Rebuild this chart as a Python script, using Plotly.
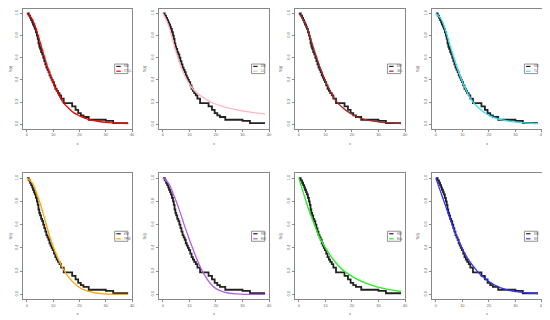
import plotly.graph_objects as go
from plotly.subplots import make_subplots

# Kaplan-Meier (empirical) step curve
km_time = [0, 0.7, 1.2, 1.6, 2.0, 2.3, 2.7, 3.0, 3.4, 3.8, 4.1, 4.4, 4.7, 5.0, 5.4, 5.8,
           6.2, 6.6, 7.0, 7.4, 7.8, 8.2, 8.6, 9.0, 9.4, 9.8, 10.3, 10.8, 11.3, 11.8, 12.4,
           13.0, 14.0, 17.2, 18.5, 19.5, 20.5, 21.5, 23.5, 30.0, 32.8, 38.5]
km_surv = [1.0, 0.98, 0.96, 0.94, 0.92, 0.90, 0.88, 0.86, 0.83, 0.80, 0.77, 0.73, 0.70, 0.68,
           0.65, 0.63, 0.60, 0.57, 0.54, 0.51, 0.49, 0.47, 0.44, 0.42, 0.40, 0.38, 0.35, 0.32,
           0.30, 0.28, 0.26, 0.23, 0.19, 0.16, 0.13, 0.10, 0.08, 0.065, 0.04, 0.03, 0.01, 0.01]

# fitted survival curves
fit_time = [0, 2, 4, 6, 8, 10, 12, 14, 16, 18, 20, 22, 25, 28, 31, 34, 38.5]
fit_red = [1.0, 0.95, 0.82, 0.66, 0.50, 0.37, 0.27, 0.19, 0.14, 0.10, 0.075, 0.055, 0.035, 0.022, 0.014, 0.009, 0.005]
fit_pink = [1.0, 0.90, 0.73, 0.57, 0.45, 0.36, 0.30, 0.26, 0.23, 0.20, 0.18, 0.165, 0.145, 0.13, 0.115, 0.105, 0.09]
fit_brown = [1.0, 0.93, 0.80, 0.65, 0.51, 0.39, 0.29, 0.21, 0.16, 0.12, 0.09, 0.065, 0.042, 0.027, 0.017, 0.011, 0.006]
fit_cyan = [1.0, 0.95, 0.82, 0.66, 0.51, 0.38, 0.28, 0.20, 0.15, 0.11, 0.08, 0.06, 0.038, 0.025, 0.016, 0.010, 0.005]
fit_orange = [1.0, 0.96, 0.85, 0.71, 0.55, 0.41, 0.30, 0.21, 0.145, 0.095, 0.06, 0.037, 0.017, 0.007, 0.003, 0.001, 0.0]
fit_purple = [1.0, 0.96, 0.86, 0.74, 0.60, 0.47, 0.35, 0.24, 0.155, 0.09, 0.05, 0.028, 0.01, 0.004, 0.001, 0.0, 0.0]
fit_green = [1.0, 0.85, 0.71, 0.59, 0.48, 0.40, 0.33, 0.27, 0.22, 0.185, 0.155, 0.13, 0.10, 0.075, 0.056, 0.042, 0.025]
fit_blue = [1.0, 0.87, 0.74, 0.61, 0.49, 0.39, 0.31, 0.245, 0.19, 0.145, 0.11, 0.083, 0.052, 0.033, 0.021, 0.013, 0.006]

fits = [fit_red, fit_pink, fit_brown, fit_cyan, fit_orange, fit_purple, fit_green, fit_blue]
fit_names = ["OTLL", "LL", "GLL", "TL", "TPW", "EW", "Exp", "W"]
fit_colors = ["#ff0000", "#ffb6c1", "#a52a2a", "#33e0f0", "#ffa500", "#b45cf0", "#22ee22", "#3333ff"]
km_name = "KM"

x_ticks = [0, 10, 20, 30, 40]
y_ticks = [0.0, 0.2, 0.4, 0.6, 0.8, 1.0]

OFF = 8  # browser body margin
W, H = 550 - OFF, 320 - OFF
col_px = [(18, 129), (156, 268), (294, 406), (433, 545)]
row_px = [(4, 128), (173, 299)]

fig = make_subplots(rows=2, cols=4)

for i in range(8):
    r, c = i // 4, i % 4
    fig.add_trace(go.Scatter(x=km_time, y=km_surv, mode="lines", line_shape="hv",
                             line=dict(color="#222222", width=1.8), showlegend=False),
                  row=r + 1, col=c + 1)
    fig.add_trace(go.Scatter(x=fit_time, y=fits[i], mode="lines", line_shape="spline",
                             line=dict(color=fit_colors[i], width=1.3), showlegend=False),
                  row=r + 1, col=c + 1)
    n = i + 1
    xa = "xaxis" if n == 1 else f"xaxis{n}"
    ya = "yaxis" if n == 1 else f"yaxis{n}"
    x0, x1 = col_px[c][0] - OFF, col_px[c][1] - OFF
    y0, y1 = row_px[r][0] - OFF, row_px[r][1] - OFF
    axis_common = dict(showgrid=False, zeroline=False, showline=True, linecolor="#888888",
                       linewidth=1, mirror=True, ticks="outside", ticklen=2, tickwidth=0.6,
                       tickcolor="#888888", tickfont=dict(size=4, color="#666666"))
    fig.layout[xa].update(domain=[max(x0, 0) / W, x1 / W], range=[-1.54, 40.04], tickvals=x_ticks,
                          title=dict(text="x", font=dict(size=4, color="#666666"), standoff=5),
                          **axis_common)
    fig.layout[ya].update(domain=[1 - y1 / H, min(1, 1 - y0 / H)], range=[-0.04, 1.04], tickvals=y_ticks,
                          tickformat=".1f", tickangle=-90,
                          title=dict(text="S(t)", font=dict(size=4, color="#666666"), standoff=3),
                          **axis_common)
    xr = "x domain" if n == 1 else f"x{n} domain"
    yr = "y domain" if n == 1 else f"y{n} domain"
    fig.add_shape(type="rect", xref=xr, yref=yr, x0=0.84, x1=0.96, y0=0.46, y1=0.54,
                  line=dict(color="#777777", width=0.8), fillcolor="white")
    fig.add_shape(type="line", xref=xr, yref=yr, x0=0.855, x1=0.895, y0=0.52, y1=0.52,
                  line=dict(color="#222222", width=1.2))
    fig.add_shape(type="line", xref=xr, yref=yr, x0=0.855, x1=0.895, y0=0.48, y1=0.48,
                  line=dict(color=fit_colors[i], width=1.2))
    fig.add_annotation(xref=xr, yref=yr, x=0.905, y=0.52, text=km_name, showarrow=False,
                       xanchor="left", yanchor="middle", font=dict(size=3, color="#555555"))
    fig.add_annotation(xref=xr, yref=yr, x=0.905, y=0.48, text=fit_names[i], showarrow=False,
                       xanchor="left", yanchor="middle", font=dict(size=3, color="#555555"))

fig.update_layout(width=W, height=H, margin=dict(l=0, r=0, t=0, b=0),
                  plot_bgcolor="white", paper_bgcolor="white",
                  font=dict(family="Liberation Sans, Arial, sans-serif"))

fig.write_html("out.html")
